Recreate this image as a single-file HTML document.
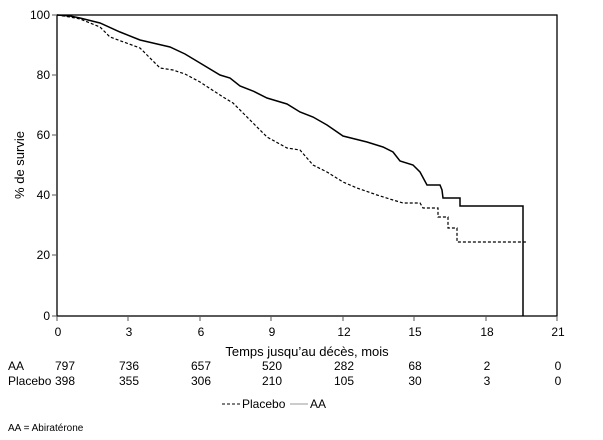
<!DOCTYPE html>
<html><head><meta charset="utf-8"><style>
body{margin:0;background:#fff;}
svg{display:block;font-family:"Liberation Sans",sans-serif;}
</style></head><body>
<svg width="603" height="440" viewBox="0 0 603 440">
<rect x="57" y="15" width="500" height="301" fill="none" stroke="#000" stroke-width="1.3"/>
<g stroke="#555" stroke-width="1">
<line x1="52" y1="15" x2="57" y2="15"/><line x1="52" y1="75" x2="57" y2="75"/><line x1="52" y1="135" x2="57" y2="135"/><line x1="52" y1="195" x2="57" y2="195"/><line x1="52" y1="255" x2="57" y2="255"/><line x1="52" y1="316" x2="57" y2="316"/>
<line x1="57" y1="316" x2="57" y2="321"/><line x1="128" y1="316" x2="128" y2="321"/><line x1="200" y1="316" x2="200" y2="321"/><line x1="271" y1="316" x2="271" y2="321"/><line x1="343" y1="316" x2="343" y2="321"/><line x1="414" y1="316" x2="414" y2="321"/><line x1="486" y1="316" x2="486" y2="321"/><line x1="557" y1="316" x2="557" y2="321"/>
</g>
<g font-size="12" fill="#000" text-anchor="end">
<text x="50" y="19">100</text><text x="50" y="79">80</text><text x="50" y="139">60</text><text x="50" y="199">40</text><text x="50" y="259">20</text><text x="50" y="320">0</text>
</g>
<g font-size="12" fill="#000" text-anchor="middle">
<text x="58" y="336">0</text><text x="129" y="336">3</text><text x="201" y="336">6</text><text x="272" y="336">9</text><text x="344" y="336">12</text><text x="415" y="336">15</text><text x="487" y="336">18</text><text x="558" y="336">21</text>
<text x="307" y="356" font-size="13">Temps jusqu’au décès, mois</text>
</g>
<text transform="translate(24,165) rotate(-90)" font-size="13" text-anchor="middle">% de survie</text>
<g font-size="12">
<text x="8" y="370">AA</text><text x="8" y="385">Placebo</text>
<g text-anchor="middle">
<text x="65" y="370">797</text><text x="129" y="370">736</text><text x="201" y="370">657</text><text x="272" y="370">520</text><text x="344" y="370">282</text><text x="415" y="370">68</text><text x="487" y="370">2</text><text x="558" y="370">0</text>
<text x="65" y="385">398</text><text x="129" y="385">355</text><text x="201" y="385">306</text><text x="272" y="385">210</text><text x="344" y="385">105</text><text x="415" y="385">30</text><text x="487" y="385">3</text><text x="558" y="385">0</text>
</g>
<line x1="222" y1="404" x2="240" y2="404" stroke="#000" stroke-dasharray="3,2"/>
<text x="242" y="408">Placebo</text>
<line x1="290" y1="404" x2="308" y2="404" stroke="#999"/>
<text x="310" y="408">AA</text>
<text x="8" y="431" font-size="10">AA = Abiratérone</text>
</g>
<polyline fill="none" stroke="#000" stroke-width="1.5" points="57,15 70,16 80,18 100,23 120,32 140,40 170,47 185,54 200,63 220,75 230,78 240,86 253,91 267,98 287,104 300,112 313,117 327,125 343,136 367,142 383,147 393,152 400,161 413,165 420,172 427,185 440,185 442,190 443,198 460,198 460,206 523,206 523,316"/>
<polyline fill="none" stroke="#000" stroke-width="1.2" stroke-dasharray="3,2" points="57,15 70,17 80,19 100,27 110,37 140,48 160,68 173,70 185,74 200,82 223,97 233,103 250,120 267,137 287,148 300,150 313,165 327,172 343,182 357,188 377,195 393,200 403,203 420,203 423,208 438,208 438,217 448,217 448,228 457,228 457,242 527,242"/>
</svg>
</body></html>
